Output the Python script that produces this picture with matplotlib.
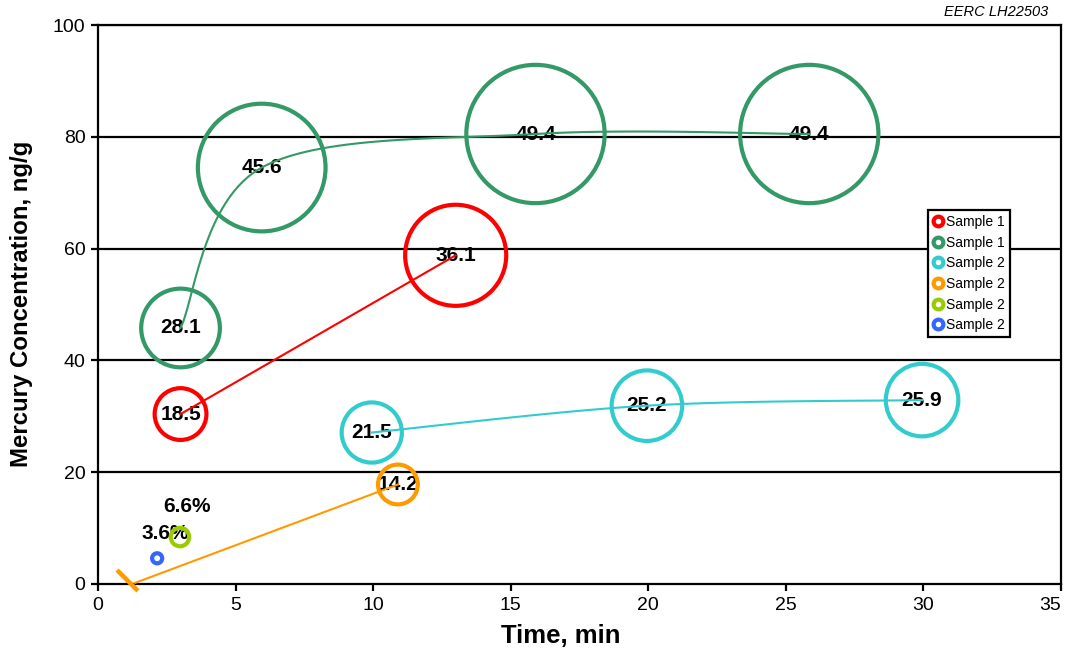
import numpy as np
import matplotlib
matplotlib.use("Agg")
import matplotlib.pyplot as plt
from matplotlib.lines import Line2D
from matplotlib.path import Path

plt.rcParams['font.family'] = ['Liberation Sans', 'DejaVu Sans']

# ---- data ----
red_x = [3.0, 13.0]
red_y = [30.4, 58.8]
red_v = [18.5, 36.1]

green_x = [3.0, 5.95, 15.9, 25.85]
green_y = [45.8, 74.5, 80.5, 80.5]
green_v = [28.1, 45.6, 49.4, 49.4]

cyan_x = [9.95, 19.95, 29.95]
cyan_y = [27.1, 31.9, 32.9]
cyan_v = [21.5, 25.2, 25.9]

orange_x = [1.05, 10.9]
orange_y = [0.8, 17.8]
orange_v = [0.0, 14.2]
orange_line_x = [1.35, 10.9]
orange_line_y = [0.2, 17.8]

ygreen_x = [2.98]
ygreen_y = [8.4]
ygreen_v = [6.6]

blue_x = [2.15]
blue_y = [4.6]
blue_v = [3.6]

pct_labels = ["6.6%", "3.6%"]
pct_x = [3.25, 2.45]
pct_y = [13.8, 9.1]

legend_labels = ["Sample 1", "Sample 1", "Sample 2", "Sample 2", "Sample 2", "Sample 2"]
xticks = [0, 5, 10, 15, 20, 25, 30, 35]
yticks = [0, 20, 40, 60, 80, 100]

RED = "#FF0000"
GREEN = "#339966"
CYAN = "#33CCCC"
ORANGE = "#FF9900"
YGREEN = "#99CC00"
BLUE = "#3366FF"


def smooth(xs, ys, n=40):
    P = np.column_stack([xs, ys]).astype(float)
    out = []
    for i in range(len(P) - 1):
        p0 = P[i - 1] if i > 0 else P[i]
        p1 = P[i]
        p2 = P[i + 1]
        p3 = P[i + 2] if i + 2 < len(P) else P[i + 1]
        c1 = p1 + (p2 - p0) / 6.0
        c2 = p2 - (p3 - p1) / 6.0
        t = np.linspace(0, 1, n)[:, None]
        seg = ((1 - t) ** 3) * p1 + 3 * ((1 - t) ** 2) * t * c1 + 3 * (1 - t) * t ** 2 * c2 + t ** 3 * p2
        out.append(seg if i == 0 else seg[1:])
    pts = np.vstack(out)
    return pts[:, 0], pts[:, 1]


fig = plt.figure(figsize=(10.67, 6.53), dpi=100)
ax = fig.add_axes([98 / 1067, 1 - 584 / 653, (1061 - 98) / 1067, (584 - 25) / 653])

ax.set_xlim(0, 35)
ax.set_ylim(0, 100)

# gridlines
for yv in yticks[1:]:
    ax.axhline(yv, color="black", lw=1.6, zorder=1)

K = 2.016  # bubble diameter in points per unit value
LW = 3.0


def bubbles(xs, ys, vs, color):
    s = [(K * v) ** 2 for v in vs]
    ax.scatter(xs, ys, s=s, facecolors="none", edgecolors=color, linewidths=LW, zorder=3)


def labels(xs, ys, vs):
    for x, y, v in zip(xs, ys, vs):
        ax.text(x, y, f"{v:.1f}", ha="center", va="center", fontsize=15,
                fontweight="bold", color="black", zorder=2)


# lines
ax.plot(red_x, red_y, color=RED, lw=1.5, zorder=4)
gx, gy = smooth(green_x, green_y)
ax.plot(gx, gy, color=GREEN, lw=1.5, zorder=4)
cx, cy = smooth(cyan_x, cyan_y)
ax.plot(cx, cy, color=CYAN, lw=1.5, zorder=4)
ax.plot(orange_line_x, orange_line_y, color=ORANGE, lw=1.5, zorder=4)

# bubbles
bubbles(red_x, red_y, red_v, RED)
bubbles(green_x, green_y, green_v, GREEN)
bubbles(cyan_x, cyan_y, cyan_v, CYAN)
bubbles(orange_x[1:], orange_y[1:], orange_v[1:], ORANGE)
bubbles(ygreen_x, ygreen_y, ygreen_v, YGREEN)
bubbles(blue_x, blue_y, blue_v, BLUE)

# degenerate zero-size bubble drawn as a slash
slash = Path([(-1, 1), (1, -1)], [Path.MOVETO, Path.LINETO])
ax.plot(orange_x[:1], orange_y[:1], linestyle="none", marker=slash, markersize=15,
        markeredgewidth=3.2, color=ORANGE, zorder=4, clip_on=False)

labels(red_x, red_y, red_v)
labels(green_x, green_y, green_v)
labels(cyan_x, cyan_y, cyan_v)
labels(orange_x[1:], orange_y[1:], orange_v[1:])
for t, x, y in zip(pct_labels, pct_x, pct_y):
    ax.text(x, y, t, ha="center", va="center", fontsize=15, fontweight="bold", zorder=2)

# axes styling
for sp in ax.spines.values():
    sp.set_linewidth(1.6)
    sp.set_color("black")
ax.set_xticks(xticks)
ax.set_yticks(yticks)
ax.tick_params(axis="both", direction="out", length=5, width=1.6, labelsize=14, pad=4)
ax.get_xticklabels()[-1].set_horizontalalignment("right")
ax.set_xlabel("Time, min", fontsize=18.5, fontweight="bold", va="center")
ax.xaxis.set_label_coords(0.481, -0.093)
ax.set_ylabel("Mercury Concentration, ng/g", fontsize=17.3, fontweight="bold", va="center")
ax.yaxis.set_label_coords(-0.079, 0.502)

# legend
colors = [RED, GREEN, CYAN, ORANGE, YGREEN, BLUE]
handles = [Line2D([], [], linestyle="none", marker="o", markersize=7, markerfacecolor="white",
                  markeredgecolor=c, markeredgewidth=3.0) for c in colors]
leg = ax.legend(handles, legend_labels, loc="upper left", bbox_to_anchor=(0.862, 0.669),
                borderaxespad=0, fontsize=10, handlelength=0.7, handletextpad=0.25,
                labelspacing=0.48, borderpad=0.35, fancybox=False, framealpha=1,
                edgecolor="black")
leg.get_frame().set_linewidth(1.6)
leg.set_zorder(10)

fig.text(1048 / 1067, 1 - 12 / 653, "EERC LH22503", ha="right", va="center",
         fontsize=10.5, style="italic")

fig.savefig("out.png", dpi=100)
